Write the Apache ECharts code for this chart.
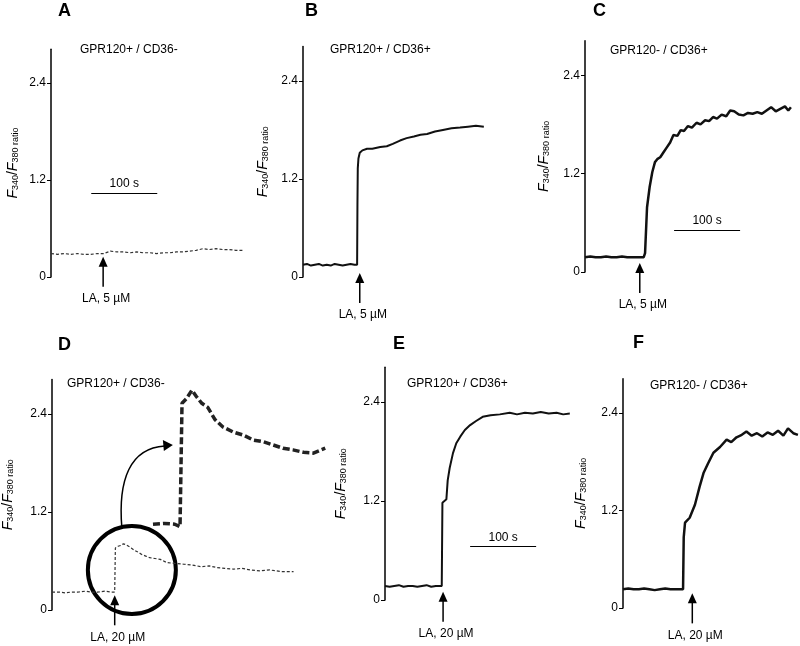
<!DOCTYPE html>
<html>
<head>
<meta charset="utf-8">
<script src="https://cdn.jsdelivr.net/npm/echarts@6/dist/echarts.min.js"></script>
<style>
  html, body { margin: 0; padding: 0; background: #fff; }
  #chart { width: 800px; height: 646px; }
</style>
</head>
<body>
<div id="chart"></div>
<script>
// panel letters and cell types
const panelLetters = ['A', 'B', 'C', 'D', 'E', 'F']
const cellTypes = ['GPR120+ / CD36-', 'GPR120+ / CD36+', 'GPR120- / CD36+',
  'GPR120+ / CD36-', 'GPR120+ / CD36+', 'GPR120- / CD36+']
const doseLabels = ['LA, 5 µM', 'LA, 5 µM', 'LA, 5 µM', 'LA, 20 µM', 'LA, 20 µM', 'LA, 20 µM']
const yTicks = [0, 1.2, 2.4]

// time (s) and F340/F380 ratio
const timeA = [0, 10, 20, 30, 40, 50, 60, 70, 80, 90, 100, 110, 120, 130, 140, 150, 160, 170, 180, 190,
  200, 210, 220, 230, 240, 250, 260, 270, 280, 290]
const ratioA = [0.29, 0.28, 0.29, 0.28, 0.29, 0.28, 0.28, 0.29, 0.29, 0.32, 0.31, 0.31, 0.30, 0.31, 0.30,
  0.30, 0.29, 0.30, 0.30, 0.31, 0.31, 0.32, 0.33, 0.35, 0.34, 0.35, 0.34, 0.34, 0.33, 0.33]

const timeB = [0, 6, 12, 18, 24, 30, 36, 42, 48, 54, 60, 66, 72, 78, 82,
  82.5, 83, 84, 86, 90, 97, 105, 117, 127, 136, 147, 157, 168, 178, 188, 200, 212, 225, 238, 250, 262, 274]
const ratioB = [0.15, 0.16, 0.14, 0.15, 0.16, 0.14, 0.15, 0.14, 0.16, 0.15, 0.14, 0.15, 0.16, 0.15, 0.15,
  0.9, 1.33, 1.45, 1.52, 1.55, 1.57, 1.57, 1.59, 1.60, 1.63, 1.67, 1.70, 1.72, 1.74, 1.75, 1.78, 1.80, 1.82, 1.83, 1.84, 1.85, 1.84]

const timeC = [0, 8, 16, 24, 32, 40, 48, 56, 64, 72, 80, 89,
  91, 94, 98, 102, 106, 110, 114, 119, 124, 129, 134, 140, 145, 150, 156, 162, 169, 175, 182, 188,
  194, 200, 207, 214, 220, 226, 233, 240, 247, 254, 261, 268, 275, 282, 289, 296, 303, 308, 312]
const ratioC = [0.18, 0.19, 0.18, 0.18, 0.19, 0.18, 0.18, 0.19, 0.18, 0.18, 0.18, 0.18,
  0.23, 0.79, 1.04, 1.22, 1.34, 1.38, 1.40, 1.46, 1.52, 1.58, 1.67, 1.66, 1.73, 1.72, 1.78, 1.76, 1.82, 1.80, 1.85, 1.84,
  1.89, 1.87, 1.92, 1.90, 1.97, 1.96, 1.92, 1.91, 1.94, 1.93, 1.95, 1.93, 1.97, 2.01, 1.96, 1.99, 2.02, 1.97, 2.01]

const timeD = [0, 10, 20, 30, 40, 50, 60, 70, 80, 90, 95,
  96, 100, 104, 108, 112, 116, 120, 125, 130, 136, 142, 148, 156, 164, 174, 186, 200, 213, 226, 238,
  250, 262, 275, 288, 300, 315, 330, 348, 366]
const ratioD = [0.22, 0.22, 0.21, 0.22, 0.22, 0.23, 0.22, 0.22, 0.23, 0.22, 0.22,
  0.76, 0.78, 0.79, 0.81, 0.80, 0.78, 0.76, 0.73, 0.71, 0.68, 0.66, 0.64, 0.63, 0.62, 0.58, 0.57, 0.56, 0.55, 0.53, 0.54,
  0.52, 0.51, 0.50, 0.51, 0.49, 0.48, 0.49, 0.47, 0.47]
// enlarged copy of the D response (inset)
const timeZoom = [153, 170, 186, 194, 197, 204, 212, 219, 227, 236, 247, 259, 274, 290, 305, 320, 335, 350, 365, 381, 396, 414]
const ratioZoom = [1.05, 1.06, 1.05, 1.02, 2.53, 2.59, 2.69, 2.61, 2.53, 2.48, 2.33, 2.24, 2.18, 2.14, 2.08, 2.06, 2.02, 1.98, 1.96, 1.93, 1.92, 1.98]

const timeE = [0, 7, 14, 21, 28, 35, 42, 49, 56, 63, 70, 77, 86,
  87, 93, 95, 98, 103, 108, 114, 121, 129, 138, 148, 160, 174, 189, 200, 212, 224, 236, 248, 260, 270, 280]
const ratioE = [0.17, 0.16, 0.17, 0.18, 0.16, 0.17, 0.17, 0.16, 0.17, 0.18, 0.16, 0.17, 0.17,
  1.18, 1.22, 1.45, 1.60, 1.78, 1.90, 1.98, 2.06, 2.12, 2.17, 2.22, 2.24, 2.25, 2.27, 2.25, 2.27, 2.26, 2.28, 2.26, 2.27, 2.25, 2.26]

const timeF = [0, 8, 16, 24, 32, 40, 48, 56, 64, 72, 80, 91,
  92, 94, 101, 109, 116, 122, 129, 137, 147, 157, 164, 172, 180, 187, 195, 203, 211, 219, 227, 235, 243, 250, 258, 265]
const ratioF = [0.23, 0.24, 0.23, 0.23, 0.24, 0.23, 0.22, 0.23, 0.24, 0.23, 0.23, 0.23,
  0.87, 1.05, 1.11, 1.27, 1.49, 1.66, 1.78, 1.91, 1.98, 2.07, 2.04, 2.10, 2.13, 2.17, 2.12, 2.15, 2.11, 2.16, 2.13, 2.18, 2.12, 2.21, 2.15, 2.13]

// LA addition time (s) and arrow tip level
const injectTime = [79, 86, 83, 95, 88, 105]
const arrowTip = [0.25, 0.05, 0.11, 0.18, 0.10, 0.18]

// 100 s scale bars: panel, start time, level
const scaleBars = [[0, 61, 1.04], [2, 135, 0.51], [4, 129, 0.65]]

const times = [timeA, timeB, timeC, timeD, timeE, timeF]
const ratios = [ratioA, ratioB, ratioC, ratioD, ratioE, ratioF]

const FONT = '"Liberation Sans", Arial, sans-serif'
const PX_PER_S = 0.66
const Y_MAX = 2.82
// left edge of axis, pixel of zero, pixels per ratio unit, time range, name gap
const layout = [
  { left: 51, zero: 277, unit: 80.8, xMax: 300, gap: 31, letter: [58, 2], title: [80, 44] },
  { left: 303, zero: 277, unit: 81.7, xMax: 280, gap: 33, letter: [305, 2], title: [330, 44] },
  { left: 585, zero: 272, unit: 82, xMax: 315, gap: 34, letter: [593, 2], title: [610, 45] },
  { left: 52, zero: 610, unit: 81.7, xMax: 420, gap: 37, letter: [58, 336], title: [67, 378] },
  { left: 385, zero: 600, unit: 82.5, xMax: 285, gap: 37, letter: [393, 335], title: [407, 378] },
  { left: 623, zero: 608, unit: 81.3, xMax: 268, gap: 35, letter: [633, 334], title: [650, 380] }
]

const zip = (xs, ys) => xs.map((x, k) => [x, ys[k]])

let myChart = echarts.init(document.getElementById('chart'))

const grids = layout.map(p => ({
  left: p.left,
  top: p.zero - Y_MAX * p.unit,
  width: p.xMax * PX_PER_S,
  height: Y_MAX * p.unit,
  outerBoundsMode: 'none'
}))

const xAxes = layout.map((p, i) => ({
  type: 'value', gridIndex: i, min: 0, max: p.xMax, show: false
}))

const yAxes = layout.map((p, i) => ({
  type: 'value',
  gridIndex: i,
  min: 0,
  max: Y_MAX,
  name: '{i|F}{s|340}{n|/}{i|F}{s|380 ratio}',
  nameLocation: 'middle',
  nameGap: p.gap,
  nameRotate: 90,
  nameTextStyle: {
    rich: {
      i: { fontStyle: 'italic', fontSize: 14, fontFamily: FONT, color: '#000', lineHeight: 14 },
      n: { fontSize: 14, fontFamily: FONT, color: '#000', lineHeight: 14 },
      s: { fontSize: 9, fontFamily: FONT, color: '#000', lineHeight: 5, verticalAlign: 'bottom' }
    }
  },
  axisLine: { show: true, lineStyle: { color: '#000', width: 1.5 } },
  axisTick: { show: true, length: 4, customValues: yTicks, lineStyle: { color: '#000' } },
  axisLabel: {
    customValues: yTicks,
    margin: 5,
    fontSize: 12,
    fontFamily: FONT,
    color: '#000',
    formatter: v => v === 0 ? '0' : v.toFixed(1)
  },
  splitLine: { show: false }
}))

const dashed = { color: '#333', width: 1.2, type: [3, 2] }
const solid = { color: '#111', width: 2 }
const noisy = { color: '#111', width: 2.5 }
const traceStyles = [dashed, solid, noisy, dashed, solid, noisy]

const series = ratios.map((r, i) => ({
  type: 'line',
  xAxisIndex: i,
  yAxisIndex: i,
  data: zip(times[i], r),
  showSymbol: false,
  silent: true,
  lineStyle: traceStyles[i]
}))
series.push({
  type: 'line',
  xAxisIndex: 3,
  yAxisIndex: 3,
  data: zip(timeZoom, ratioZoom),
  showSymbol: false,
  silent: true,
  lineStyle: { color: '#222', width: 3.5, type: [7, 3] }
})
scaleBars.forEach(b => {
  series[b[0]].markLine = {
    silent: true,
    symbol: 'none',
    lineStyle: { color: '#000', width: 1, type: 'solid' },
    label: { show: true, position: 'middle', formatter: '100 s', color: '#000', fontSize: 12, fontFamily: FONT, distance: 3 },
    data: [[{ coord: [b[1], b[2]] }, { coord: [b[1] + 100, b[2]] }]]
  }
})

const titles = []
layout.forEach((p, i) => {
  titles.push({ text: panelLetters[i], left: p.letter[0], top: p.letter[1], padding: 0,
    textStyle: { fontSize: 18, fontWeight: 'bold', fontFamily: FONT, color: '#000' } })
  titles.push({ text: cellTypes[i], left: p.title[0], top: p.title[1], padding: 0,
    textStyle: { fontSize: 12, fontWeight: 'normal', fontFamily: FONT, color: '#000' } })
})

myChart.setOption({
  animation: false,
  backgroundColor: '#fff',
  title: titles,
  grid: grids,
  xAxis: xAxes,
  yAxis: yAxes,
  series: series
})

// LA arrows, circle and the curved arrow to the enlarged trace
const graphic = []
layout.forEach((p, i) => {
  const [x, y] = myChart.convertToPixel({ gridIndex: i }, [injectTime[i], arrowTip[i]])
  graphic.push({ type: 'polygon', shape: { points: [[x, y], [x - 4.5, y + 10], [x + 4.5, y + 10]] }, style: { fill: '#000' } })
  graphic.push({ type: 'line', shape: { x1: x, y1: y + 9, x2: x, y2: y + 30 }, style: { stroke: '#000', lineWidth: 1.5 } })
  graphic.push({ type: 'text', x: x + 3, y: y + 42,
    style: { text: doseLabels[i], fontSize: 12, fontFamily: FONT, fill: '#000', align: 'center', verticalAlign: 'middle' } })
})
const [cx, cy] = myChart.convertToPixel({ gridIndex: 3 }, [121, 0.49])
graphic.push({ type: 'circle', shape: { cx: cx, cy: cy, r: 44 }, style: { fill: 'none', stroke: '#000', lineWidth: 4 } })
graphic.push({ type: 'bezierCurve',
  shape: { x1: cx - 10, y1: cy - 42, cpx1: cx - 14, cpy1: cy - 90, cpx2: cx - 2, cpy2: cy - 122, x2: cx + 33, y2: cy - 124 },
  style: { stroke: '#000', lineWidth: 1.5, fill: 'none' } })
graphic.push({ type: 'polygon',
  shape: { points: [[cx + 41, cy - 125], [cx + 31, cy - 130], [cx + 32, cy - 119]] }, style: { fill: '#000' } })

myChart.setOption({ graphic: graphic })
</script>
</body>
</html>
